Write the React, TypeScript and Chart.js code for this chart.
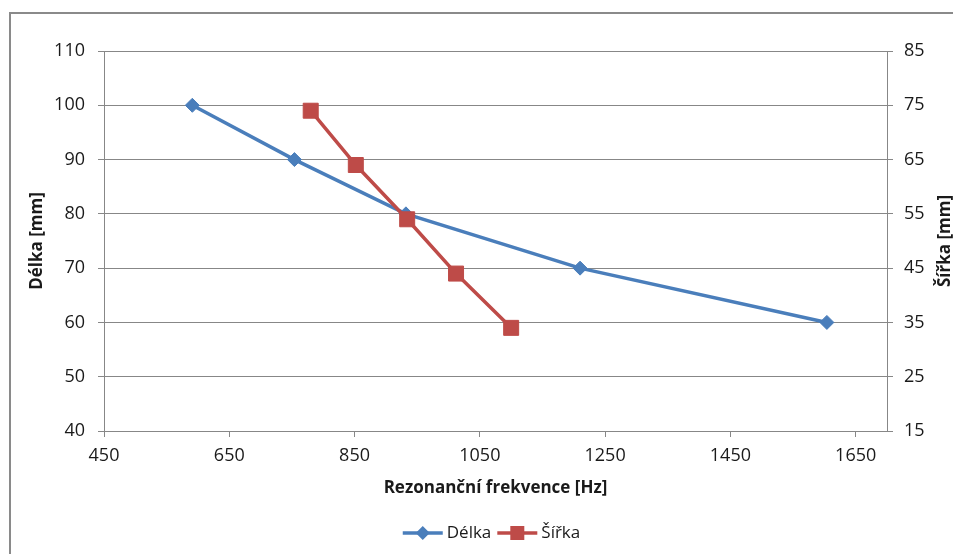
import React, { useEffect, useRef } from "react";
import { Chart, registerables } from "chart.js";

Chart.register(...registerables);

// ---- data ----
const delkaFreq = [591, 754, 932, 1210, 1604];
const delkaValues = [100, 90, 80, 70, 60];
const sirkaFreq = [780, 852, 934, 1012, 1100];
const sirkaValues = [74, 64, 54, 44, 34];
const xTickValues = [450, 650, 850, 1050, 1250, 1450, 1650];
const seriesNames = ["Délka", "Šířka"];
const xTitle = "Rezonanční frekvence [Hz]";
const yLeftTitle = "Délka [mm]";
const yRightTitle = "Šířka [mm]";

const BLUE = "#4A7EBB";
const RED = "#BE4B48";
const AXIS = "#878787";
const TEXT = "#1a1a1a";
const FONT = "'Open Sans', 'Noto Sans', sans-serif";

const decorPlugin = {
  id: "decor",
  afterDraw(chart: any) {
    const ctx = chart.ctx as CanvasRenderingContext2D;
    const ca = chart.chartArea;
    ctx.save();
    // outer chart border (extends beyond visible page)
    ctx.strokeStyle = "#8a8a8a";
    ctx.lineWidth = 2;
    ctx.beginPath();
    ctx.moveTo(10, 600);
    ctx.lineTo(10, 13);
    ctx.lineTo(1000, 13);
    ctx.stroke();

    // axis titles
    ctx.fillStyle = TEXT;
    ctx.font = `bold 17px ${FONT}`;
    ctx.textAlign = "center";
    ctx.textBaseline = "middle";
    const midY = (ca.top + ca.bottom) / 2;
    ctx.fillText(xTitle, (ca.left + ca.right) / 2, 488);

    ctx.save();
    ctx.translate(37, midY);
    ctx.rotate(-Math.PI / 2);
    ctx.fillText(yLeftTitle, 0, 0);
    ctx.restore();

    ctx.save();
    ctx.translate(945, midY);
    ctx.rotate(-Math.PI / 2);
    ctx.fillText(yRightTitle, 0, 0);
    ctx.restore();

    // legend
    ctx.font = `17px ${FONT}`;
    const colors = [BLUE, RED];
    const lineLen = 40;
    const gap = 4;
    const itemGap = 6;
    const widths = seriesNames.map((n) => lineLen + gap + ctx.measureText(n).width);
    const total = widths.reduce((a, b) => a + b, 0) + itemGap * (seriesNames.length - 1);
    let x = (ca.left + ca.right) / 2 - 4 - total / 2;
    const ly = 533;
    seriesNames.forEach((name, i) => {
      ctx.strokeStyle = colors[i];
      ctx.lineWidth = 3.5;
      ctx.beginPath();
      ctx.moveTo(x, ly);
      ctx.lineTo(x + lineLen, ly);
      ctx.stroke();
      ctx.fillStyle = colors[i];
      const cx = x + lineLen / 2;
      ctx.beginPath();
      if (i === 0) {
        ctx.moveTo(cx, ly - 7);
        ctx.lineTo(cx + 7, ly);
        ctx.lineTo(cx, ly + 7);
        ctx.lineTo(cx - 7, ly);
        ctx.closePath();
      } else {
        ctx.rect(cx - 7, ly - 7, 14, 14);
      }
      ctx.fill();
      ctx.fillStyle = TEXT;
      ctx.textAlign = "left";
      ctx.fillText(name, x + lineLen + gap, ly);
      x += widths[i] + itemGap;
    });
    ctx.restore();
  },
};

export default function App() {
  const ref = useRef<HTMLCanvasElement | null>(null);

  useEffect(() => {
    if (!ref.current) return;
    const tickFont = { family: FONT, size: 18 };
    const plain = (v: any) => String(v);
    const chart = new Chart(ref.current, {
      type: "scatter",
      data: {
        datasets: [
          {
            label: seriesNames[0],
            data: delkaFreq.map((x, i) => ({ x, y: delkaValues[i] })),
            yAxisID: "y",
            showLine: true,
            borderColor: BLUE,
            backgroundColor: BLUE,
            borderWidth: 3.5,
            pointStyle: "rectRot",
            pointRadius: 7,
            pointBorderWidth: 1,
            pointBorderColor: BLUE,
            pointBackgroundColor: BLUE,
            order: 1,
          },
          {
            label: seriesNames[1],
            data: sirkaFreq.map((x, i) => ({ x, y: sirkaValues[i] })),
            yAxisID: "y1",
            showLine: true,
            borderColor: RED,
            backgroundColor: RED,
            borderWidth: 3.5,
            pointStyle: "rect",
            pointRadius: 10.6,
            pointBorderWidth: 1,
            pointBorderColor: RED,
            pointBackgroundColor: RED,
            order: 0,
          },
        ],
      },
      options: {
        responsive: false,
        animation: false,
        devicePixelRatio: 1,
        layout: { padding: { top: 51, left: 0, right: 0, bottom: 0 } },
        plugins: {
          legend: { display: false },
          tooltip: { enabled: false },
        },
        scales: {
          x: {
            type: "linear",
            position: "bottom",
            min: 450,
            max: 1700,
            afterBuildTicks: (scale: any) => {
              scale.ticks = xTickValues.map((v) => ({ value: v }));
            },
            afterFit: (scale: any) => {
              scale.height = 123;
            },
            grid: { drawOnChartArea: false, tickLength: 6, color: AXIS },
            border: { color: AXIS, width: 1 },
            ticks: { font: tickFont, color: TEXT, padding: 8, maxRotation: 0, callback: plain },
          },
          y: {
            type: "linear",
            position: "left",
            min: 40,
            max: 110,
            afterFit: (scale: any) => {
              scale.width = 104;
            },
            grid: { tickLength: 6, color: AXIS },
            border: { color: AXIS, width: 1 },
            ticks: { stepSize: 10, font: tickFont, color: TEXT, padding: 13, callback: plain },
          },
          y1: {
            type: "linear",
            position: "right",
            min: 15,
            max: 85,
            afterFit: (scale: any) => {
              scale.width = 66;
            },
            grid: { drawOnChartArea: false, tickLength: 6, color: AXIS },
            border: { color: AXIS, width: 1 },
            ticks: { stepSize: 10, font: tickFont, color: TEXT, padding: 11, callback: plain },
          },
        },
      } as any,
      plugins: [decorPlugin],
    });
    return () => chart.destroy();
  }, []);

  return (
    <div
      style={{
        position: "fixed",
        left: 0,
        top: 0,
        width: 953,
        height: 554,
        overflow: "hidden",
        background: "#fff",
      }}
    >
      <canvas ref={ref} width={953} height={554} style={{ display: "block" }} />
    </div>
  );
}
